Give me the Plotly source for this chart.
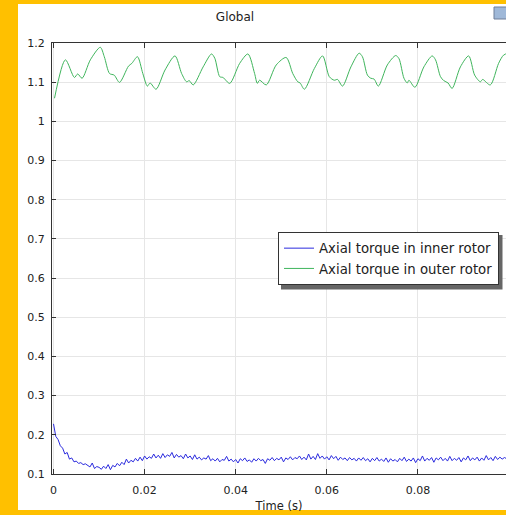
import numpy as np
import plotly.graph_objects as go

# ---------------- data ----------------
outer_t = [0.00022, 0.00262, 0.00459, 0.00531, 0.00627, 0.00809, 0.01027, 0.01115, 0.01231, 0.01333,
           0.01449, 0.01646, 0.01720, 0.01843, 0.01961, 0.02061, 0.02120, 0.02251, 0.02448, 0.02667,
           0.02813, 0.02922, 0.02979, 0.03067, 0.03285, 0.03469, 0.03541, 0.03650, 0.03722, 0.03869,
           0.04087, 0.04269, 0.04415, 0.04474, 0.04525, 0.04671, 0.04890, 0.05108, 0.05253, 0.05362,
           0.05414, 0.05508, 0.05727, 0.05908, 0.06055, 0.06164, 0.06236, 0.06345, 0.06529, 0.06710,
           0.06782, 0.06892, 0.06966, 0.07038, 0.07132, 0.07329, 0.07513, 0.07585, 0.07694, 0.07766,
           0.07803, 0.07934, 0.08131, 0.08313, 0.08387, 0.08496, 0.08568, 0.08662, 0.08750, 0.08933,
           0.09115, 0.09246, 0.09371, 0.09421, 0.09589, 0.09771, 0.09880, 0.1000]
outer_torque = [1.059, 1.157, 1.112, 1.121, 1.110, 1.157, 1.189, 1.165, 1.122, 1.118,
                1.0995, 1.141, 1.148, 1.165, 1.122, 1.090, 1.098, 1.082, 1.131, 1.167,
                1.122, 1.101, 1.104, 1.093, 1.139, 1.172, 1.161, 1.114, 1.112, 1.097,
                1.148, 1.172, 1.122, 1.097, 1.105, 1.093, 1.144, 1.163, 1.122, 1.101,
                1.098, 1.082, 1.135, 1.167, 1.114, 1.105, 1.107, 1.090, 1.139, 1.174,
                1.165, 1.118, 1.110, 1.108, 1.090, 1.144, 1.168, 1.160, 1.110, 1.098,
                1.105, 1.087, 1.139, 1.167, 1.157, 1.114, 1.104, 1.098, 1.084, 1.139,
                1.167, 1.118, 1.101, 1.107, 1.093, 1.148, 1.169, 1.175]

inner_step_s = 0.0005
inner_torque = [0.228, 0.196, 0.188, 0.172, 0.166, 0.151, 0.155, 0.138, 0.141, 0.131,
                0.133, 0.127, 0.129, 0.124, 0.126, 0.121, 0.118, 0.128, 0.114, 0.119,
                0.117, 0.112, 0.120, 0.114, 0.124, 0.111, 0.122, 0.118, 0.127, 0.121,
                0.130, 0.124, 0.138, 0.128, 0.135, 0.131, 0.140, 0.133, 0.143, 0.134,
                0.146, 0.138, 0.144, 0.140, 0.151, 0.141, 0.148, 0.140, 0.152, 0.142,
                0.149, 0.145, 0.155, 0.141, 0.150, 0.143, 0.147, 0.139, 0.151, 0.141,
                0.146, 0.137, 0.149, 0.138, 0.143, 0.136, 0.141, 0.138, 0.147, 0.134,
                0.139, 0.133, 0.140, 0.131, 0.137, 0.135, 0.145, 0.133, 0.138, 0.131,
                0.137, 0.128, 0.139, 0.134, 0.141, 0.132, 0.136, 0.130, 0.139, 0.133,
                0.140, 0.134, 0.137, 0.127, 0.139, 0.135, 0.142, 0.134, 0.140, 0.136,
                0.143, 0.131, 0.141, 0.137, 0.144, 0.136, 0.142, 0.139, 0.146, 0.137,
                0.143, 0.136, 0.151, 0.138, 0.145, 0.137, 0.152, 0.140, 0.146, 0.138,
                0.144, 0.136, 0.147, 0.139, 0.145, 0.135, 0.143, 0.137, 0.141, 0.134,
                0.142, 0.136, 0.140, 0.133, 0.141, 0.135, 0.142, 0.134, 0.139, 0.131,
                0.140, 0.134, 0.142, 0.133, 0.138, 0.132, 0.141, 0.130, 0.139, 0.133,
                0.137, 0.131, 0.140, 0.134, 0.143, 0.132, 0.138, 0.133, 0.141, 0.129,
                0.139, 0.134, 0.146, 0.133, 0.140, 0.135, 0.142, 0.130, 0.141, 0.136,
                0.143, 0.134, 0.140, 0.133, 0.145, 0.134, 0.140, 0.135, 0.142, 0.131,
                0.141, 0.136, 0.146, 0.134, 0.141, 0.136, 0.143, 0.133, 0.141, 0.135,
                0.147, 0.136, 0.142, 0.134, 0.145, 0.137, 0.143, 0.138, 0.142, 0.139,
                0.141]
inner_t = np.round(np.arange(len(inner_torque)) * inner_step_s, 6)

x_ticks = [0, 0.02, 0.04, 0.06, 0.08]
x_tick_labels = ["0", "0.02", "0.04", "0.06", "0.08"]
y_ticks = [0.1, 0.2, 0.3, 0.4, 0.5, 0.6, 0.7, 0.8, 0.9, 1.0, 1.1, 1.2]
y_tick_labels = ["0.1", "0.2", "0.3", "0.4", "0.5", "0.6", "0.7", "0.8", "0.9", "1", "1.1", "1.2"]

# ---------------- figure ----------------
FONT = "DejaVu Sans"
W, H = 506, 515
ML, MR, MT, MB = 52, 0, 43, 41
PW, PH = W - ML - MR, H - MT - MB

def px_x(p):
    return (p - ML) / PW

def px_y(p):
    return (H - MB - p) / PH

fig = go.Figure()
fig.add_trace(go.Scatter(x=inner_t, y=inner_torque, mode="lines",
                         name="Axial torque in inner rotor", legendgroup="a",
                         line=dict(color="#2a2ade", width=1)))
fig.add_trace(go.Scatter(x=outer_t, y=outer_torque, mode="lines",
                         name="Axial torque in outer rotor", legendgroup="b",
                         line=dict(color="#3fb55c", width=1, shape="spline", smoothing=0.8)))

shapes = [
    # white panel on yellow frame
    dict(type="rect", xref="paper", yref="paper", layer="below",
         x0=px_x(18), x1=px_x(W + 2), y0=px_y(510), y1=px_y(4),
         fillcolor="white", line=dict(width=0)),
    # legend shadow
    dict(type="rect", xref="paper", yref="paper", layer="above",
         x0=px_x(281), x1=px_x(502.5), y0=px_y(289.5), y1=px_y(235),
         fillcolor="#666666", line=dict(width=0)),
    # small icon top right
    dict(type="rect", xref="paper", yref="paper", layer="above",
         x0=px_x(494), x1=px_x(507), y0=px_y(19), y1=px_y(7),
         fillcolor="#9fb8d8", line=dict(color="#6f7f99", width=1)),
]

fig.update_layout(
    width=W, height=H,
    margin=dict(l=ML, r=MR, t=MT, b=MB, pad=0),
    paper_bgcolor="#ffc000",
    plot_bgcolor="white",
    font=dict(family=FONT, size=11, color="#222222"),
    title=dict(text="Global", x=235 / W, xref="container", xanchor="center",
               y=1 - 17 / H, yref="container", yanchor="middle",
               font=dict(family=FONT, size=12, color="#222222")),
    showlegend=True,
    legend=dict(x=px_x(278), y=px_y(232), xanchor="left", yanchor="top",
                bgcolor="white", bordercolor="#333333", borderwidth=1,
                font=dict(family=FONT, size=13.3, color="#222222"),
                tracegroupgap=7, traceorder="normal"),
    shapes=shapes,
)

fig.update_xaxes(range=[-0.00033, 0.09934], tickvals=x_ticks, ticktext=x_tick_labels,
                 showgrid=True, gridcolor="#e6e6e6", gridwidth=1,
                 zeroline=False, showline=True, linecolor="#333333", linewidth=1,
                 mirror="ticks", ticks="inside", ticklen=5, tickcolor="#333333",
                 ticklabelstandoff=6,
                 title=dict(text="Time (s)", standoff=5,
                            font=dict(family=FONT, size=11.5, color="#222222")),
                 fixedrange=True)
fig.update_yaxes(range=[0.1, 1.2], tickvals=y_ticks, ticktext=y_tick_labels,
                 showgrid=True, gridcolor="#e6e6e6", gridwidth=1,
                 zeroline=False, showline=True, linecolor="#333333", linewidth=1,
                 ticks="inside", ticklen=4, tickcolor="#333333",
                 ticklabelstandoff=4, fixedrange=True)

fig.write_html("out.html", config={"displayModeBar": False})
